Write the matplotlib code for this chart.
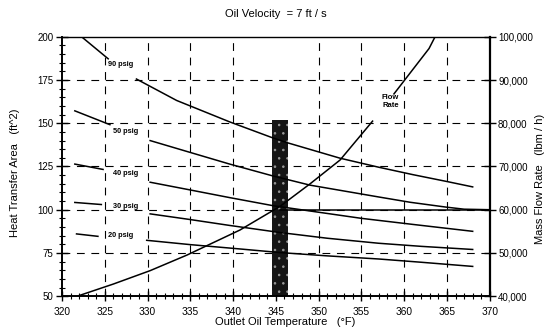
import matplotlib
matplotlib.use("Agg")
import matplotlib.pyplot as plt
from matplotlib.ticker import MultipleLocator, FuncFormatter

plt.rcParams['font.family'] = ['Liberation Sans', 'DejaVu Sans']
plt.rcParams['hatch.linewidth'] = 0.6

# ---- data ----
t90a = [322.3, 325.4]
a90a = [200.0, 187.3]
t90b = [328.7, 333.4, 339.6, 344.5, 346.3, 352.5, 357.0, 361.0, 365.0, 368.0]
a90b = [175.6, 163.2, 150.8, 141.8, 138.8, 129.8, 124.6, 120.3, 116.3, 113.2]

t50a = [321.5, 325.6]
a50a = [157.2, 149.2]
t50b = [330.3, 334.6, 339.6, 344.6, 349.0, 357.1, 360.7, 364.9, 367.0, 370.0]
a50b = [140.0, 133.7, 126.4, 119.6, 114.2, 107.3, 104.3, 101.5, 100.3, 100.0]

t40a = [321.5, 324.8]
a40a = [126.4, 123.3]
t40b = [330.3, 334.6, 339.6, 344.7, 355.0, 361.0, 368.0]
a40b = [115.9, 111.8, 107.0, 102.3, 95.0, 91.5, 87.5]

t30a = [321.5, 324.6]
a30a = [104.2, 103.0]
t30b = [330.3, 335.0, 339.6, 345.5, 351.0, 357.0, 362.0, 368.0]
a30b = [97.6, 94.3, 90.9, 86.8, 83.5, 80.6, 78.8, 77.0]

t20a = [321.7, 324.2]
a20a = [86.0, 84.6]
t20b = [329.9, 335.0, 340.8, 345.5, 351.0, 357.0, 362.0, 368.0]
a20b = [82.3, 79.8, 77.3, 75.2, 73.3, 71.5, 69.6, 67.2]

t_flat = [345.5, 370.0]
a_flat = [100.0, 100.0]

t_flow_a = [321.8, 326.0, 330.3, 334.6, 340.8, 345.5, 349.0, 352.5, 356.3]
flow_a = [40000, 42800, 45900, 49500, 55300, 60800, 66000, 71500, 80500]
t_flow_b = [358.8, 362.9, 363.6]
flow_b = [86800, 97300, 100000]

band_x = 345.5
band_lo, band_hi = 50, 152

psig_labels = ["90 psig", "50 psig", "40 psig", "30 psig", "20 psig"]
psig_lx = [325.4, 326.0, 326.0, 326.0, 325.4]
psig_ly = [184.0, 145.5, 121.0, 102.0, 85.0]

x_ticks = [320, 325, 330, 335, 340, 345, 350, 355, 360, 365, 370]
y_ticks = [50, 75, 100, 125, 150, 175, 200]
y2_ticks = [40000, 50000, 60000, 70000, 80000, 90000, 100000]
vgrid = [325, 330, 335, 340, 350, 355, 360, 365]
hgrid = [75, 100, 125, 150, 175]

# ---- figure ----
fig = plt.figure(figsize=(5.52, 3.32), dpi=100)
ax = fig.add_axes([0.1123, 0.108, 0.775, 0.781])
ax2 = ax.twinx()
ax.set_xlim(320, 370)
ax.set_ylim(50, 200)
ax2.set_ylim(40000, 100000)

# grid
for gx in vgrid:
    ax.plot([gx, gx], [50, 200], color='black', lw=0.8, ls=(0, (7, 6)), zorder=1)
for gy in hgrid:
    ax.plot([320, 370], [gy, gy], color='black', lw=0.8, ls=(0, (7, 6)), zorder=1)

# band
ax.bar(band_x, band_hi - band_lo, bottom=band_lo, width=1.8, facecolor='#151515',
       edgecolor='#9a9a9a', hatch='..', linewidth=0, zorder=2)

# curves
lw = 1.1
for tx, ay in [(t90a, a90a), (t90b, a90b), (t50a, a50a), (t50b, a50b),
               (t40a, a40a), (t40b, a40b), (t30a, a30a), (t30b, a30b),
               (t20a, a20a), (t20b, a20b), (t_flat, a_flat)]:
    ax.plot(tx, ay, color='black', lw=lw, zorder=3, clip_on=True)

ax2.plot(t_flow_a, flow_a, color='black', lw=lw, zorder=3)
ax2.plot(t_flow_b, flow_b, color='black', lw=lw, zorder=3)

for lab, lx, ly in zip(psig_labels, psig_lx, psig_ly):
    ax.text(lx, ly, lab, fontsize=5.3, fontweight='bold', ha='left', va='center', zorder=4)

ax2.text(358.4, 85000, "Flow\nRate", fontsize=5.5, fontweight='bold', ha='center',
         va='center', linespacing=1.3, zorder=4)

# ticks
ax.set_xticks(x_ticks)
ax.set_yticks(y_ticks)
ax.xaxis.set_minor_locator(MultipleLocator(1))
ax.yaxis.set_minor_locator(MultipleLocator(5))
ax.tick_params(axis='x', which='major', direction='inout', length=7, width=1.0,
               labelsize=7.3, pad=4, top=False)
ax.tick_params(axis='x', which='minor', direction='inout', length=5, width=0.8, top=False)
ax.tick_params(axis='y', which='major', direction='inout', length=8, width=1.0,
               labelsize=7, pad=2, right=False)
ax.tick_params(axis='y', which='minor', direction='inout', length=5, width=0.8, right=False)

ax2.set_yticks(y2_ticks)
ax2.yaxis.set_major_formatter(FuncFormatter(lambda v, p: f"{int(v):,}"))
ax2.tick_params(axis='y', which='major', direction='inout', length=8, width=1.0,
                labelsize=7, pad=2)

for s in ['left', 'bottom']:
    ax.spines[s].set_linewidth(1.4)
ax.spines['top'].set_linewidth(1.0)
ax2.spines['right'].set_linewidth(1.6)
for s in ['left', 'bottom', 'top']:
    ax2.spines[s].set_visible(False)
ax.spines['right'].set_visible(False)

fig.text(0.50, 0.958, "Oil Velocity  = 7 ft / s", fontsize=8, ha='center', va='center')
fig.text(0.516, 0.030, "Outlet Oil Temperature   (\u00b0F)", fontsize=8, ha='center', va='center')
fig.text(0.028, 0.48, "Heat Transfer Area   (ft^2)", fontsize=8, rotation=90,
         ha='center', va='center')
fig.text(0.978, 0.46, "Mass Flow Rate   (lbm / h)", fontsize=8, rotation=90,
         ha='center', va='center')

fig.savefig("out.png", dpi=100)
